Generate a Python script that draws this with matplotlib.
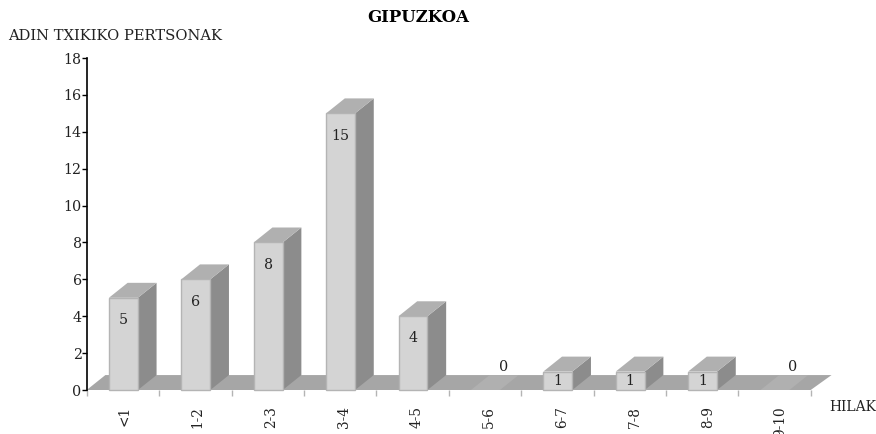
import matplotlib
matplotlib.use('Agg')
import matplotlib.pyplot as plt
from matplotlib.patches import Polygon

categories = ['<1', '1-2', '2-3', '3-4', '4-5', '5-6', '6-7', '7-8', '8-9', '9-10']
values = [5, 6, 8, 15, 4, 0, 1, 1, 1, 0]
y_ticks = [0, 2, 4, 6, 8, 10, 12, 14, 16, 18]

front_color = '#d4d4d4'
edge_color = '#b4b4b4'
top_color = '#b0b0b0'
side_color = '#8c8c8c'
floor_color = '#a6a6a6'

# 3d look, in data units
dx = 0.258
dy = 0.81
bar_w = 0.40
bar_off = 0.007

plt.rcParams['font.family'] = ['DejaVu Serif']
plt.rcParams['font.size'] = 10.3

fig = plt.figure(figsize=(8.76, 4.34), dpi=100)
ax = fig.add_axes([86.7 / 876, 44 / 434, 724 / 876, 332 / 434])
ax.set_xlim(0, 10)
ax.set_ylim(0, 18)

# floor
ax.add_patch(Polygon([(0, 0), (10, 0), (10 + dx + 0.03, dy), (dx, dy)], fc=floor_color, ec='none',
                     clip_on=False, zorder=1))

for i, v in enumerate(values):
    x0 = i + 0.5 - bar_w / 2 + bar_off
    x1 = x0 + bar_w
    if v > 0:
        ax.add_patch(Polygon([(x1, 0), (x1 + dx, dy), (x1 + dx, v + dy), (x1, v)], fc=side_color, ec='none',
                             clip_on=False, zorder=2))
        ax.add_patch(Polygon([(x0, v), (x1, v), (x1 + dx, v + dy), (x0 + dx, v + dy)], fc=top_color, ec='none',
                             clip_on=False, zorder=2))
        ax.add_patch(Polygon([(x0, 0), (x1, 0), (x1, v), (x0, v)], fc=front_color, ec=edge_color, lw=1,
                             clip_on=False, zorder=3))
        if v == 1:
            ax.annotate(str(v), (x0 + bar_w / 2, v / 2), ha='center', va='center', color='#222222', zorder=4)
        else:
            ax.annotate(str(v), (x0 + bar_w / 2, v), xytext=(0, -16), textcoords='offset points',
                        ha='center', va='center', color='#222222', zorder=4)
    else:
        ax.add_patch(Polygon([(x0, 0), (x1, 0), (x1 + dx, dy), (x0 + dx, dy)], fc=top_color, ec='none',
                             clip_on=False, zorder=2))
        ax.annotate(str(v), (x0 + bar_w / 2 + 0.25, dy), xytext=(0, 6), textcoords='offset points',
                    ha='center', va='center', color='#222222', zorder=4)

for s in ['top', 'right', 'bottom']:
    ax.spines[s].set_visible(False)
ax.spines['left'].set_linewidth(1.2)
ax.spines['left'].set_zorder(5)

ax.set_yticks(y_ticks)
ax.tick_params(axis='y', length=3.6, width=1, pad=0, labelcolor='#222222')
ax.set_xticks(range(11))
ax.set_xticklabels([])
ax.tick_params(axis='x', length=4, width=1, color='#b4b4b4')

# labels drift a little to the right of the category centres
for i, c in enumerate(categories):
    ax.annotate(c, (i + 0.5, 0), xytext=(1.5 + i * 0.32, -11.5), textcoords='offset points', rotation=90,
                ha='center', va='top', fontsize=9.8, color='#222222', annotation_clip=False)

fig.text(418 / 876, 1 - 18 / 434, 'GIPUZKOA', ha='center', va='center', fontweight='bold', fontsize=11.9,
         color='black')
fig.text(8 / 876, 1 - 36 / 434, 'ADIN TXIKIKO PERTSONAK', ha='left', va='center', fontsize=10.65, color='#222222')
fig.text(829 / 876, 1 - 407 / 434, 'HILAK', ha='left', va='center', fontsize=10, color='#222222')

fig.savefig('out.png', dpi=100)
